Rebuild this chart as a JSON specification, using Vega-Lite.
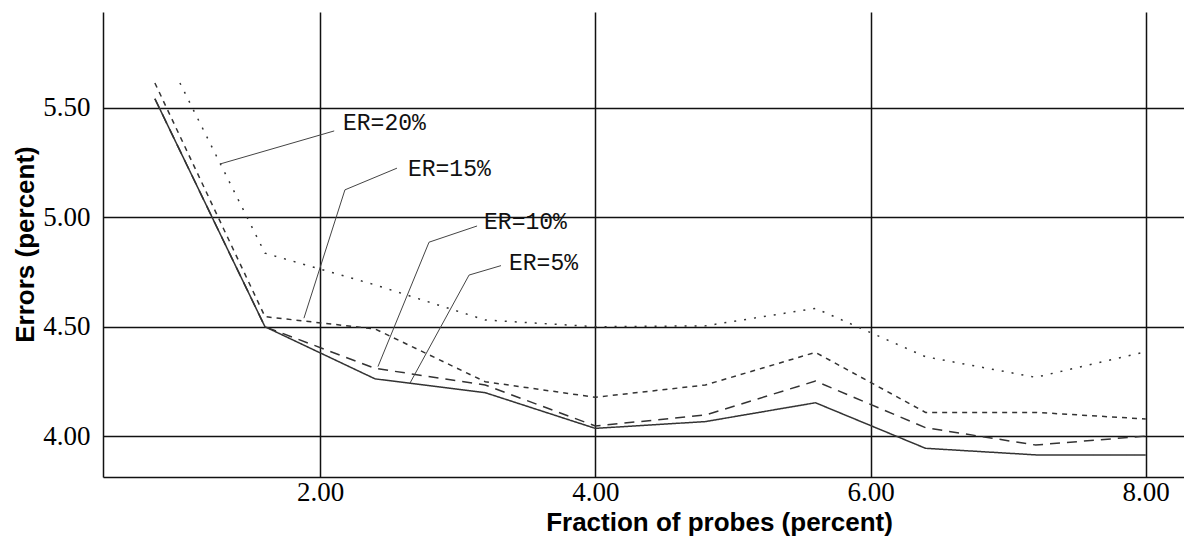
{
  "$schema": "https://vega.github.io/schema/vega-lite/v6.json",
  "width": 1081,
  "height": 465,
  "autosize": {"type": "none"},
  "padding": {"left": 103, "top": 12, "right": 0, "bottom": 72},
  "background": "white",
  "config": {"view": {"stroke": null}},
  "datasets": {
    "series": [
      {"series": "ER=5%", "x": 0.8, "y": 5.542},
      {"series": "ER=5%", "x": 1.6, "y": 4.501},
      {"series": "ER=5%", "x": 2.4, "y": 4.263},
      {"series": "ER=5%", "x": 3.2, "y": 4.200},
      {"series": "ER=5%", "x": 4.0, "y": 4.037},
      {"series": "ER=5%", "x": 4.8, "y": 4.068},
      {"series": "ER=5%", "x": 5.6, "y": 4.154},
      {"series": "ER=5%", "x": 6.4, "y": 3.946},
      {"series": "ER=5%", "x": 7.2, "y": 3.916},
      {"series": "ER=5%", "x": 8.0, "y": 3.916},
      {"series": "ER=10%", "x": 0.8, "y": 5.542},
      {"series": "ER=10%", "x": 1.6, "y": 4.501},
      {"series": "ER=10%", "x": 2.4, "y": 4.311},
      {"series": "ER=10%", "x": 3.2, "y": 4.235},
      {"series": "ER=10%", "x": 4.0, "y": 4.048},
      {"series": "ER=10%", "x": 4.8, "y": 4.098},
      {"series": "ER=10%", "x": 5.6, "y": 4.253},
      {"series": "ER=10%", "x": 6.4, "y": 4.040},
      {"series": "ER=10%", "x": 7.2, "y": 3.961},
      {"series": "ER=10%", "x": 8.0, "y": 4.002},
      {"series": "ER=15%", "x": 0.8, "y": 5.614},
      {"series": "ER=15%", "x": 1.6, "y": 4.547},
      {"series": "ER=15%", "x": 2.4, "y": 4.491},
      {"series": "ER=15%", "x": 3.2, "y": 4.250},
      {"series": "ER=15%", "x": 4.0, "y": 4.179},
      {"series": "ER=15%", "x": 4.8, "y": 4.235},
      {"series": "ER=15%", "x": 5.6, "y": 4.384},
      {"series": "ER=15%", "x": 6.4, "y": 4.110},
      {"series": "ER=15%", "x": 7.2, "y": 4.110},
      {"series": "ER=15%", "x": 8.0, "y": 4.080},
      {"series": "ER=20%", "x": 0.982, "y": 5.614},
      {"series": "ER=20%", "x": 1.6, "y": 4.837},
      {"series": "ER=20%", "x": 2.4, "y": 4.692},
      {"series": "ER=20%", "x": 3.2, "y": 4.532},
      {"series": "ER=20%", "x": 4.0, "y": 4.501},
      {"series": "ER=20%", "x": 4.8, "y": 4.505},
      {"series": "ER=20%", "x": 5.6, "y": 4.585},
      {"series": "ER=20%", "x": 6.4, "y": 4.364},
      {"series": "ER=20%", "x": 7.2, "y": 4.270},
      {"series": "ER=20%", "x": 8.0, "y": 4.387}
    ],
    "leaders": [
      {"label": "ER=20%", "i": 0, "x": 2.103, "y": 5.395},
      {"label": "ER=20%", "i": 1, "x": 1.273, "y": 5.244},
      {"label": "ER=15%", "i": 0, "x": 2.559, "y": 5.225},
      {"label": "ER=15%", "i": 1, "x": 2.181, "y": 5.126},
      {"label": "ER=15%", "i": 2, "x": 1.883, "y": 4.540},
      {"label": "ER=10%", "i": 0, "x": 3.141, "y": 4.961},
      {"label": "ER=10%", "i": 1, "x": 2.792, "y": 4.887},
      {"label": "ER=10%", "i": 2, "x": 2.421, "y": 4.319},
      {"label": "ER=5%", "i": 0, "x": 3.315, "y": 4.780},
      {"label": "ER=5%", "i": 1, "x": 3.083, "y": 4.737},
      {"label": "ER=5%", "i": 2, "x": 2.653, "y": 4.243}
    ],
    "labels": [
      {"label": "ER=20%", "x": 2.167, "y": 5.432},
      {"label": "ER=15%", "x": 2.639, "y": 5.221},
      {"label": "ER=10%", "x": 3.192, "y": 4.979},
      {"label": "ER=5%", "x": 3.373, "y": 4.792}
    ]
  },
  "layer": [
    {
      "data": {"name": "series"},
      "mark": {"type": "line", "strokeWidth": 1.5, "color": "#333333", "clip": true},
      "encoding": {
        "x": {
          "field": "x", "type": "quantitative",
          "scale": {"domain": [0.423, 8.278], "nice": false, "zero": false},
          "axis": {
            "values": [2, 4, 6, 8], "format": ".2f",
            "grid": true, "gridColor": "#111111", "gridWidth": 1.5, "gridOpacity": 1,
            "domain": true, "domainColor": "#111111", "domainWidth": 1.5,
            "ticks": false,
            "labelFont": "Liberation Serif", "labelFontSize": 27, "labelColor": "#000000", "labelPadding": 2,
            "title": "Fraction of probes (percent)",
            "titleFont": "Liberation Sans", "titleFontWeight": "bold", "titleFontSize": 26, "titleColor": "#000000",
            "titleX": 616, "titleY": 53, "titleAlign": "center", "titleBaseline": "alphabetic"
          }
        },
        "y": {
          "field": "y", "type": "quantitative",
          "scale": {"domain": [3.815, 5.938], "nice": false, "zero": false},
          "axis": {
            "values": [4, 4.5, 5, 5.5], "format": ".2f",
            "grid": true, "gridColor": "#111111", "gridWidth": 1.5, "gridOpacity": 1,
            "domain": true, "domainColor": "#111111", "domainWidth": 1.5,
            "ticks": false,
            "labelFont": "Liberation Serif", "labelFontSize": 27, "labelColor": "#000000", "labelPadding": 13,
            "title": "Errors (percent)",
            "titleFont": "Liberation Sans", "titleFontWeight": "bold", "titleFontSize": 26, "titleColor": "#000000",
            "titleX": -78, "titleY": 232, "titleAngle": -90, "titleAlign": "center", "titleBaseline": "middle"
          }
        },
        "strokeDash": {
          "field": "series", "type": "nominal",
          "scale": {"domain": ["ER=5%", "ER=10%", "ER=15%", "ER=20%"], "range": [[1, 0], [10, 7], [5, 5], [2, 8]]},
          "legend": null
        }
      }
    },
    {
      "data": {"name": "leaders"},
      "mark": {"type": "line", "strokeWidth": 1, "color": "#444444"},
      "encoding": {
        "x": {"field": "x", "type": "quantitative"},
        "y": {"field": "y", "type": "quantitative"},
        "detail": {"field": "label"},
        "order": {"field": "i", "type": "quantitative"}
      }
    },
    {
      "data": {"name": "labels"},
      "mark": {"type": "text", "align": "left", "baseline": "middle", "font": "Liberation Mono", "fontSize": 23, "color": "#111111"},
      "encoding": {
        "x": {"field": "x", "type": "quantitative"},
        "y": {"field": "y", "type": "quantitative"},
        "text": {"field": "label"}
      }
    },
    {
      "mark": {"type": "rule", "color": "#111111", "strokeWidth": 1.5},
      "encoding": {
        "y": {"datum": 5.938, "type": "quantitative"}
      }
    }
  ]
}
